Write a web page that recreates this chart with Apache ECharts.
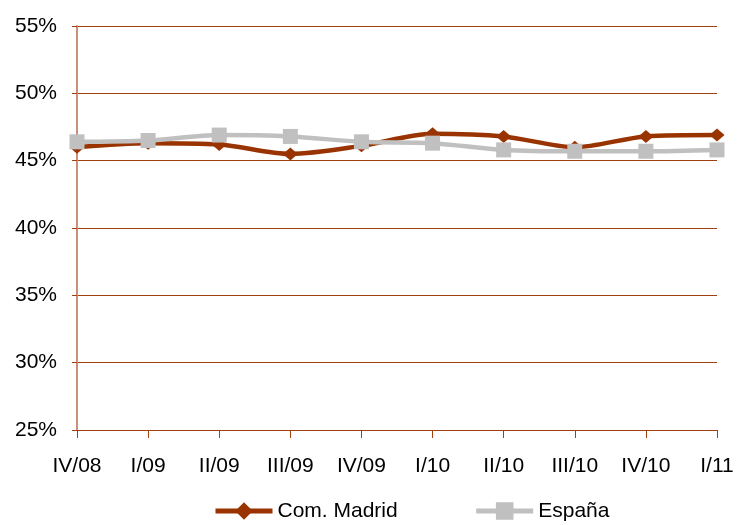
<!DOCTYPE html>
<html>
<head>
<meta charset="utf-8">
<script src="https://cdn.jsdelivr.net/npm/echarts@6/dist/echarts.min.js"></script>
<style>html,body{margin:0;padding:0;background:#fff}#c{width:750px;height:525px}</style>
</head>
<body>
<div id="c"></div>
<script>
var categories = ['IV/08','I/09','II/09','III/09','IV/09','I/10','II/10','III/10','IV/10','I/11'];
var madrid = [46.0, 46.3, 46.2, 45.5, 46.1, 47.0, 46.8, 46.0, 46.8, 46.9];
var espana = [46.4, 46.5, 46.9, 46.8, 46.4, 46.3, 45.8, 45.7, 45.7, 45.8];
var chart = echarts.init(document.getElementById('c'));
var font = '"Liberation Sans", Arial, sans-serif';
chart.setOption({
  animation: false,
  grid: {left: 77, right: 33, top: 26, bottom: 95},
  legend: {
    top: 495, left: 208, itemWidth: 57, itemHeight: 22, itemGap: 76,
    textStyle: {fontFamily: font, fontSize: 21, color: '#000', lineHeight: 22},
    lineStyle: {width: 5},
    data: ['Com. Madrid', 'España']
  },
  xAxis: {
    type: 'category', data: categories, boundaryGap: false,
    axisLine: {lineStyle: {color: '#a0400f', width: 1}},
    axisTick: {show: true, length: 8, lineStyle: {color: '#a0400f'}},
    axisLabel: {fontFamily: font, fontSize: 21, color: '#000', margin: 26, interval: 0}
  },
  yAxis: {
    type: 'value', min: 25, max: 55, interval: 5,
    axisLine: {show: true, lineStyle: {color: '#c9907a', width: 2}},
    axisTick: {show: true, length: 5, lineStyle: {color: '#a0400f'}},
    axisLabel: {fontFamily: font, fontSize: 21, color: '#000', margin: 20, formatter: '{value}%'},
    splitLine: {lineStyle: {color: '#a0400f', width: 1}}
  },
  series: [
    {
      name: 'Com. Madrid', type: 'line', data: madrid, smooth: 0.3,
      symbol: 'diamond', symbolSize: [15, 13],
      lineStyle: {color: '#993300', width: 4.5},
      itemStyle: {color: '#993300'}
    },
    {
      name: 'España', type: 'line', data: espana, smooth: 0.3,
      symbol: 'rect', symbolSize: 15,
      lineStyle: {color: '#c0c0c0', width: 4.5},
      itemStyle: {color: '#c0c0c0'}
    }
  ]
});
</script>
</body>
</html>
